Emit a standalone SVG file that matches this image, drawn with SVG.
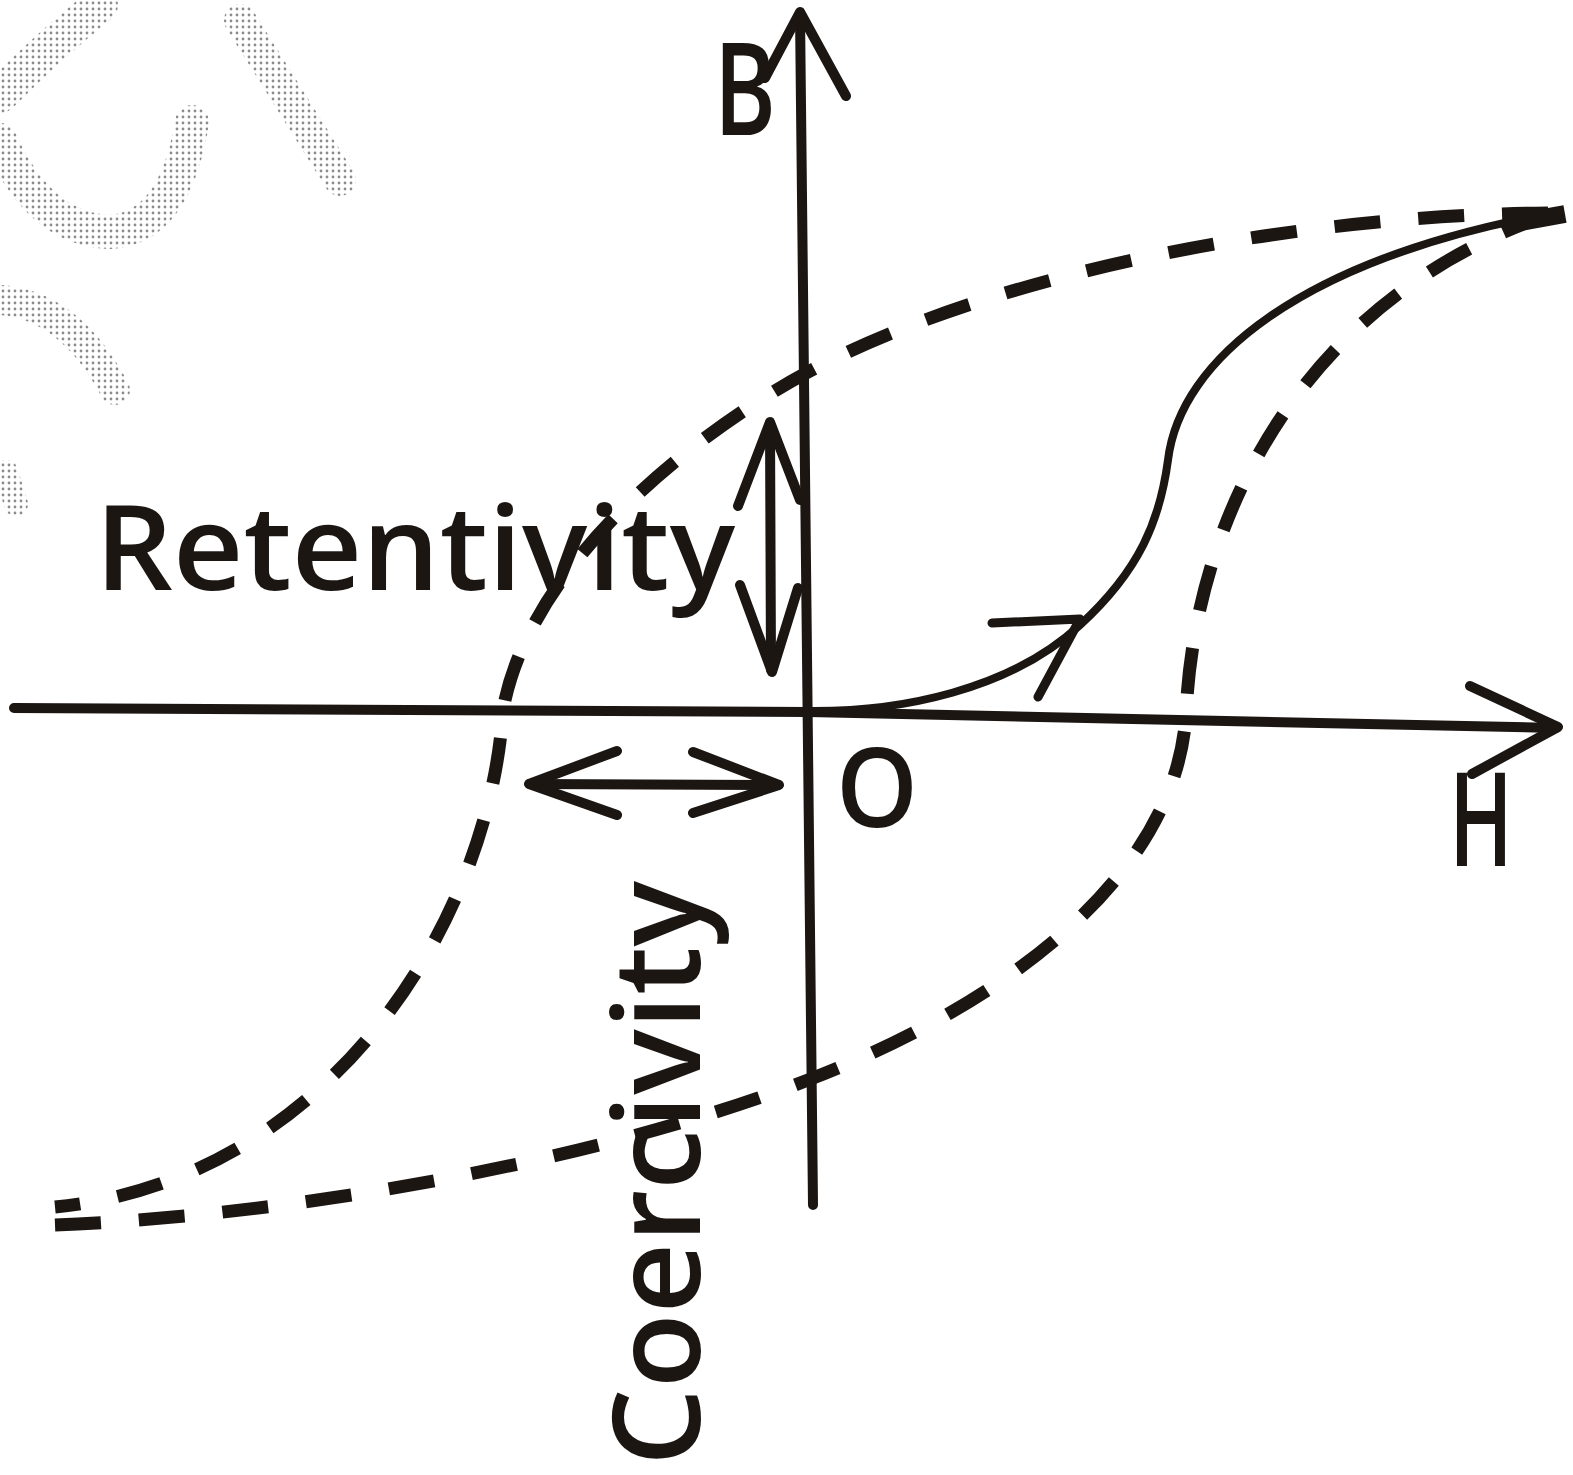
<svg xmlns="http://www.w3.org/2000/svg" width="1573" height="1475" viewBox="0 0 1573 1475">
<defs>
<pattern id="halftone" width="6" height="6" patternUnits="userSpaceOnUse"><circle cx="3" cy="3" r="1.4" fill="#8c8c8c"/></pattern>
<style>
.ink{stroke:#1c1613;fill:none;stroke-linecap:round;stroke-linejoin:round}
.axis{stroke-width:10}
.dash{stroke:#1c1613;fill:none;stroke-width:13;stroke-dasharray:46 38}
.solid{stroke-width:8}
.lbl{font-family:"Open Sans","Liberation Sans",sans-serif;font-weight:600;fill:#1c1613}
.wm{fill:none;stroke:url(#halftone);stroke-linecap:round}
</style>
</defs>
<rect width="1573" height="1475" fill="#ffffff"/>
<g id="watermark">
<path class="wm" d="M100,5 Q50,45 0,95" stroke-width="36"/>
<path class="wm" d="M0,140 Q40,230 110,232 Q175,228 192,122" stroke-width="34"/>
<path class="wm" d="M240,20 L340,180" stroke-width="32"/>
<path class="wm" d="M0,300 Q70,305 115,390" stroke-width="30"/>
<path class="wm" d="M6,472 L16,504" stroke-width="24"/>
</g>
<g id="axes">
<path class="ink axis" d="M800,14 L813,1205"/>
<path class="ink axis" d="M765,78 L800,12 L846,96"/>
<path class="ink axis" d="M14,708 L808,712 L1556,728"/>
<path class="ink axis" d="M1470,686 L1558,727 L1472,774"/>
</g>
<g id="loop">
<path class="dash" d="M1548,213 C1300,215 1000,270 808,372 C700,430 530,560 503,710 C490,920 330,1180 55,1207"/>
<path class="dash" d="M55,1225 C300,1215 600,1160 808,1080 C1000,1006 1175,880 1186,715 C1194,520 1300,300 1548,215"/>
<path d="M1520,222 L1565,214" stroke="#1c1613" stroke-width="18" fill="none"/>
</g>
<g id="magnetization-curve">
<path class="ink solid" d="M808,711 C900,712 1010,690 1080,625 C1140,570 1160,520 1168,460 C1180,360 1300,260 1548,214"/>
<path class="ink" stroke-width="9" d="M992,623 L1080,619 L1038,697"/>
</g>
<g id="retentivity">
<path class="ink axis" d="M770,424 L771,670"/>
<path class="ink axis" d="M738,506 L770,422 L800,500"/>
<path class="ink axis" d="M740,585 L772,672 L798,588"/>
<text class="lbl" x="95" y="590" font-size="118" textLength="640" lengthAdjust="spacingAndGlyphs">Retentivity</text>
</g>
<g id="coercivity">
<path class="ink axis" d="M530,784 L778,785"/>
<path class="ink axis" d="M617,751 L529,784 L617,815"/>
<path class="ink axis" d="M693,752 L779,785 L693,813"/>
<text class="lbl" transform="translate(700,1466) rotate(-90)" x="0" y="0" font-size="122" textLength="585" lengthAdjust="spacingAndGlyphs">Coercivity</text>
</g>
<g id="axis-labels">
<text class="lbl" x="714" y="135" font-size="128" textLength="62" lengthAdjust="spacingAndGlyphs">B</text>
<text class="lbl" x="836" y="827" font-size="110" textLength="82" lengthAdjust="spacingAndGlyphs">O</text>
<text class="lbl" x="1449" y="866" font-size="130" textLength="64" lengthAdjust="spacingAndGlyphs">H</text>
</g>
</svg>
